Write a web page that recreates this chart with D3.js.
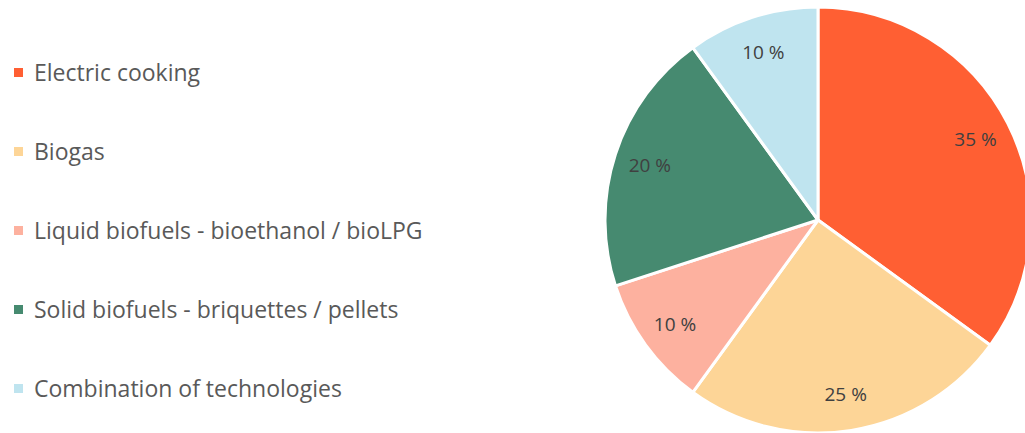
<!DOCTYPE html>
<html>
<head>
<meta charset="utf-8">
<script src="https://cdn.jsdelivr.net/npm/d3@7"></script>
<style>
  body { margin: 0; background: #fff; }
  text { font-family: "Open Sans", "Noto Sans", sans-serif; }
</style>
</head>
<body>
<svg width="1025" height="433"></svg>
<script>
const categories = [
  'Electric cooking',
  'Biogas',
  'Liquid biofuels - bioethanol / bioLPG',
  'Solid biofuels - briquettes / pellets',
  'Combination of technologies'
];
const shares = [35, 25, 10, 20, 10];
const colours = ['#FF5F33', '#FDD597', '#FDB19F', '#468A70', '#BFE4EF'];

const svg = d3.select('svg');
const data = categories.map((c, i) => ({ name: c, value: shares[i], colour: colours[i] }));

const cx = 818, cy = 220, radius = 213;

const pie = d3.pie().value(d => d.value).sort(null);
const arc = d3.arc().innerRadius(0).outerRadius(radius);
const labelArc = d3.arc().innerRadius(radius * 0.83).outerRadius(radius * 0.83);

const g = svg.append('g').attr('transform', `translate(${cx},${cy})`);

g.selectAll('path').data(pie(data))
  .enter().append('path')
    .attr('d', arc)
    .attr('fill', d => d.data.colour)
    .attr('stroke', '#fff')
    .attr('stroke-width', 3)
    .attr('stroke-linejoin', 'round');

g.selectAll('text.lbl').data(pie(data))
  .enter().append('text')
    .attr('class', 'lbl')
    .attr('transform', d => `translate(${labelArc.centroid(d)})`)
    .attr('text-anchor', 'middle')
    .attr('dy', '0.35em')
    .attr('fill', '#404040')
    .style('font-size', '19px')
    .text(d => d.data.value + ' %');

// legend
const legendY = d3.scalePoint().domain(categories).range([73, 389]);
const legend = svg.append('g');
const item = legend.selectAll('g').data(data)
  .enter().append('g')
    .attr('transform', d => `translate(0,${legendY(d.name)})`);
item.append('rect')
  .attr('x', 14).attr('y', -5)
  .attr('width', 9).attr('height', 9)
  .attr('fill', d => d.colour);
item.append('text')
  .attr('x', 34).attr('dy', '0.35em')
  .attr('fill', '#595959')
  .style('font-size', '23px')
  .text(d => d.name);
</script>
</body>
</html>
